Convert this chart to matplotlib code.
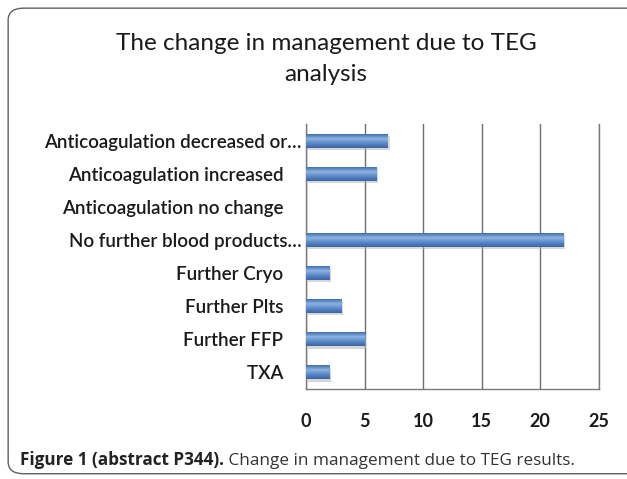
import numpy as np
import matplotlib
matplotlib.use("Agg")
import matplotlib.pyplot as plt
from matplotlib.patches import FancyBboxPatch
from matplotlib.colors import LinearSegmentedColormap

categories = [
    "Anticoagulation decreased or\u2026",
    "Anticoagulation increased    ",
    "Anticoagulation no change    ",
    "No further blood products\u2026",
    "Further Cryo    ",
    "Further Plts    ",
    "Further FFP    ",
    "TXA    ",
]
counts = [7, 6, 0, 22, 2, 3, 5, 2]
xticks = [0, 5, 10, 15, 20, 25]

title = "The change in management due to TEG\nanalysis"
caption_bold = "Figure 1 (abstract P344)."
caption_rest = " Change in management due to TEG results."

fig = plt.figure(figsize=(6.27, 4.79), dpi=100)
fig.patch.set_facecolor("white")

# rounded panel border, right side runs off the page
frame = FancyBboxPatch((0.013, 0.011), 1.2, 0.972, transform=fig.transFigure,
                       boxstyle="round,pad=0,rounding_size=0.025",
                       fc="none", ec="#606060", lw=1.0)
fig.patches.append(frame)

ax = fig.add_axes([0.488, 0.188, 0.467, 0.553])
y = np.arange(len(categories))

cmap = LinearSegmentedColormap.from_list(
    "bar", ["#3f6fb0", "#8fb2e0", "#5a88c8", "#3a65a3"])
grad = np.linspace(0, 1, 64).reshape(-1, 1)

for yi, v in zip(y, counts):
    if v <= 0:
        continue
    # drop shadow
    ax.barh(yi + 0.07, v, height=0.42, left=0.15, color="#b0b0b0",
            alpha=0.5, zorder=2)
    bar = ax.barh(yi, v, height=0.42, color="#4f81bd", zorder=3)[0]
    img = ax.imshow(grad, cmap=cmap, aspect="auto", zorder=4,
                    extent=(bar.get_x(), bar.get_x() + bar.get_width(),
                            bar.get_y() + bar.get_height(), bar.get_y()))
    img.set_clip_path(bar)

ax.set_xlim(0, 25)
ax.set_ylim(len(categories) - 0.5, -0.5)
ax.set_xticks(xticks)
ax.set_yticks(y)
ax.set_yticklabels(categories, fontsize=13.5, family="Lato",
                   fontweight="semibold", color="#1a1a1a")
ax.set_xticklabels([str(t) for t in xticks], fontsize=13, family="Lato",
                   fontweight="bold", color="#1a1a1a")
ax.tick_params(axis="both", length=0)
ax.tick_params(axis="x", pad=17)
ax.tick_params(axis="y", pad=3)
ax.grid(axis="x", color="#6e6e6e", lw=1.0, zorder=1)
ax.spines["top"].set_visible(False)
for s in ["left", "bottom", "right"]:
    ax.spines[s].set_color("#7a7a7a")
    ax.spines[s].set_linewidth(1.0)

fig.text(0.52, 0.877, title, ha="center", va="center", fontsize=17.5,
         family="Lato", color="#1a1a1a", linespacing=1.55)

t1 = fig.text(0.032, 0.03, caption_bold, ha="left", va="baseline",
              fontsize=12.3, family="Open Sans", fontweight="bold",
              color="#222222")
fig.canvas.draw()
bb = t1.get_window_extent(fig.canvas.get_renderer())
x1 = fig.transFigure.inverted().transform((bb.x1, bb.y0))[0]
fig.text(x1, 0.03, caption_rest, ha="left", va="baseline",
         fontsize=12.3, family="Open Sans", color="#333333")

fig.savefig("out.png", dpi=100)
